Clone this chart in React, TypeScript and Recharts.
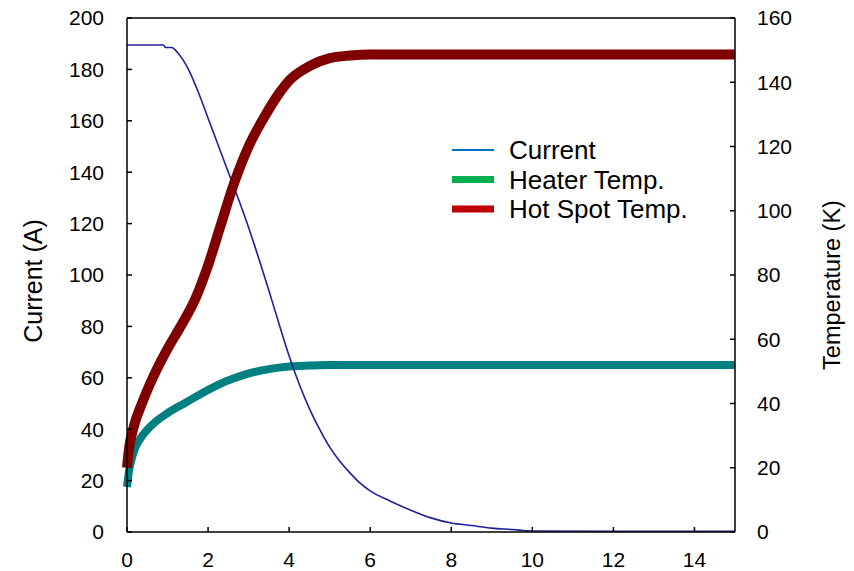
import { LineChart, Line, XAxis, YAxis, ReferenceLine, Legend } from 'recharts';

// time axis (s) and readings for each trace
const currentTime = [0, 0.5, 0.9, 0.95, 1.1, 1.25, 1.5, 1.75, 2.0, 2.25, 2.5, 2.75, 3.0, 3.25, 3.5, 3.75, 4.0, 4.25, 4.5, 4.75, 5.0, 5.25, 5.5, 5.75, 6.0, 6.5, 7.0, 7.5, 8.0, 8.5, 9.0, 9.5, 10, 12, 15];
const currentAmps = [189.5, 189.5, 189.5, 188.5, 188.5, 186.5, 180.5, 171.5, 161, 150.5, 140, 129.5, 118.5, 106.5, 94, 81, 68.5, 57.5, 48, 40, 33, 27.5, 23, 19, 16, 12, 8.5, 5.5, 3.5, 2.5, 1.5, 1, 0.4, 0.3, 0.3];

const heaterTime = [0, 0.05, 0.1, 0.18, 0.3, 0.59, 1.0, 1.41, 2.0, 2.42, 2.91, 3.5, 4.0, 4.5, 5.0, 8, 15];
const heaterTemp = [14, 19, 22, 25.5, 28.5, 33, 37, 40, 44.2, 46.8, 49, 50.7, 51.5, 51.8, 52, 52, 52];

const hotSpotTime = [0, 0.05, 0.15, 0.4, 0.75, 1.0, 1.3, 1.7, 2.0, 2.3, 2.64, 3.0, 3.38, 3.75, 4.0, 4.5, 5.0, 5.5, 6.0, 10, 15];
const hotSpotTemp = [20, 26, 32, 41, 51, 57, 63.5, 73, 83, 95, 108.5, 120, 129, 136.5, 140.5, 145, 147.5, 148.3, 148.6, 148.6, 148.6];

const timeTicks = [0, 2, 4, 6, 8, 10, 12, 14];
const currentTicks = [0, 20, 40, 60, 80, 100, 120, 140, 160, 180, 200];
const tempTicks = [0, 20, 40, 60, 80, 100, 120, 140, 160];

const legendLabels = ['Current', 'Heater Temp.', 'Hot Spot Temp.'];
const legendColors = ['#0070c0', '#00b050', '#c00000'];
const legendWidths = [2, 7, 7];

const zip = (xs: number[], ys: number[]) => xs.map((t, i) => ({ t, v: ys[i] }));

const currentData = zip(currentTime, currentAmps);
const heaterData = zip(heaterTime, heaterTemp);
const hotSpotData = zip(hotSpotTime, hotSpotTemp);

const tickStyle = { fill: '#000', fontSize: 21 };

function AxisTitle({ baseX, midY, text, size }: { baseX: number; midY: number; text: string; size: number }) {
  return (
    <text
      x={baseX}
      y={midY}
      transform={`rotate(-90 ${baseX} ${midY})`}
      textAnchor="middle"
      fontSize={size}
      fill="#000"
    >
      {text}
    </text>
  );
}

function LegendBox() {
  return (
    <svg width={260} height={95}>
      {legendLabels.map((label, i) => {
        const y = 17 + i * 29.5;
        return (
          <g key={label}>
            <line x1={2} x2={44} y1={y} y2={y} stroke={legendColors[i]} strokeWidth={legendWidths[i]} />
            <text x={59} y={y + 9} fontSize={26} fill="#000">{label}</text>
          </g>
        );
      })}
    </svg>
  );
}

export default function App() {
  return (
    <div style={{ position: 'absolute', left: 0, top: 0, width: 854, height: 571, background: '#fff', fontFamily: '"Liberation Sans", Arial, sans-serif' }}>
      <LineChart width={854} height={571} margin={{ top: 18, right: 0, bottom: 0, left: 0 }}>
        <XAxis
          dataKey="t"
          type="number"
          domain={[0, 15]}
          ticks={timeTicks}
          interval={0}
          height={39}
          stroke="#000"
          strokeWidth={1.5}
          tickSize={-5}
          tickMargin={25}
          tick={tickStyle}
          allowDuplicatedCategory={false}
        />
        <YAxis
          yAxisId="left"
          orientation="left"
          domain={[0, 200]}
          ticks={currentTicks}
          interval={0}
          width={127}
          stroke="#000"
          strokeWidth={1.5}
          tickSize={-5}
          tickMargin={28}
          tick={tickStyle}
          label={<AxisTitle baseX={42} midY={281} text="Current (A)" size={25} />}
        />
        <YAxis
          yAxisId="right"
          orientation="right"
          domain={[0, 160]}
          ticks={tempTicks}
          interval={0}
          width={119}
          stroke="#000"
          strokeWidth={1.5}
          tickSize={-5}
          tickMargin={27}
          tick={tickStyle}
          label={<AxisTitle baseX={840} midY={285} text="Temperature (K)" size={23.5} />}
        />
        <ReferenceLine yAxisId="left" y={200} stroke="#000" strokeWidth={1.5} />
        <Line
          yAxisId="right"
          data={heaterData}
          dataKey="v"
          name="Heater Temp."
          type="monotone"
          stroke="#008080"
          strokeWidth={8}
          dot={false}
          activeDot={false}
          isAnimationActive={false}
        />
        <Line
          yAxisId="left"
          data={currentData}
          dataKey="v"
          name="Current"
          type="monotone"
          stroke="#1f1f9a"
          strokeWidth={1.6}
          dot={false}
          activeDot={false}
          isAnimationActive={false}
        />
        <Line
          yAxisId="right"
          data={hotSpotData}
          dataKey="v"
          name="Hot Spot Temp."
          type="monotone"
          stroke="#800000"
          strokeWidth={10}
          dot={false}
          activeDot={false}
          isAnimationActive={false}
        />
        <Legend
          layout="horizontal"
          align="center"
          verticalAlign="middle"
          content={() => <LegendBox />}
          wrapperStyle={{ position: 'absolute', left: 450, top: 133, width: 260, height: 95 }}
        />
      </LineChart>
    </div>
  );
}
